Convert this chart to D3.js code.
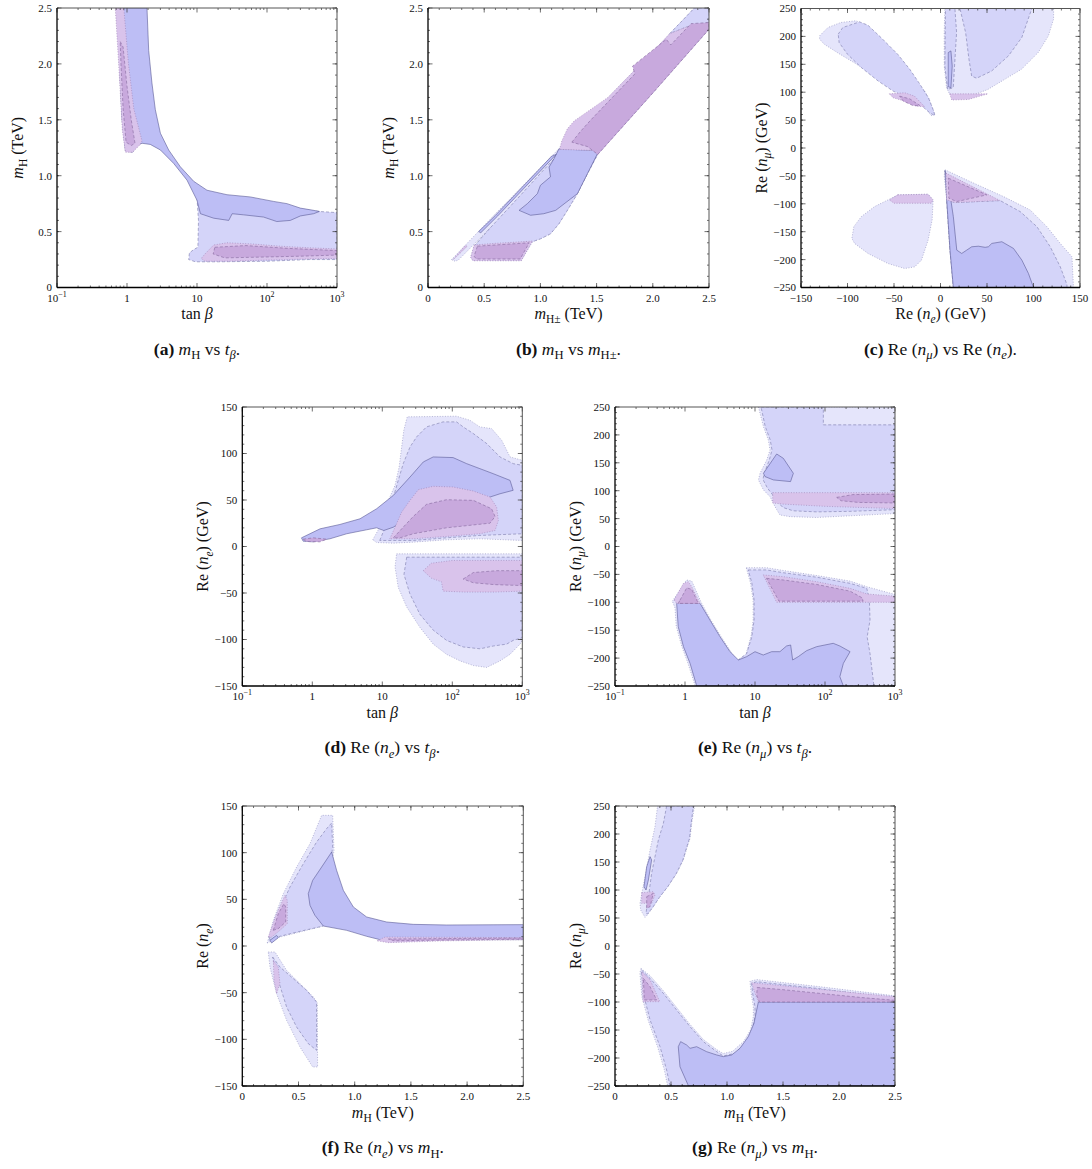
<!DOCTYPE html>
<html><head><meta charset="utf-8">
<script src="https://cdn.jsdelivr.net/npm/d3@7"></script>
<style>
body{margin:0;background:#fff}
svg{display:block}
text{font-family:"Liberation Serif","DejaVu Serif",serif;fill:#111}
</style>
</head><body>
<svg id="chart" width="1092" height="1169"></svg>
<script>
// ---------------- tick values and labels ----------------
const massTicks = [0, 0.5, 1.0, 1.5, 2.0, 2.5];
const massTickLabels = ["0", "0.5", "1.0", "1.5", "2.0", "2.5"];
const tanbTicks = [0.1, 1, 10, 100, 1000];
const tanbTickLabels = [["10", "−1"], ["1", ""], ["10", ""], ["10", "2"], ["10", "3"]];
const ne150Ticks = [-150, -100, -50, 0, 50, 100, 150];
const ne150TickLabels = ["−150", "−100", "−50", "0", "50", "100", "150"];
const nm250Ticks = [-250, -200, -150, -100, -50, 0, 50, 100, 150, 200, 250];
const nm250TickLabels = ["−250", "−200", "−150", "−100", "−50", "0", "50", "100", "150", "200", "250"];

// ---------------- (a) m_H vs tan beta ----------------
const aL2 = [[10,0.80],[30,0.79],[120,0.75],[300,0.70],[560,0.68],[1000,0.67],[1000,0.25],[400,0.25],[100,0.235],[20,0.23],[9.5,0.23],[7.6,0.25],[7.8,0.31],[9,0.34],[10.3,0.36],[10.5,0.6]];
const aL3 = [[0.78,2.5],[1.93,2.5],[2.04,2.12],[2.27,1.83],[2.54,1.59],[3.0,1.38],[3.94,1.23],[5.78,1.08],[8.96,0.95],[13.9,0.87],[26.8,0.83],[57.8,0.81],[124,0.77],[193,0.75],[300,0.71],[464,0.69],[560,0.68],[464,0.66],[300,0.64],[215,0.60],[138,0.59],[89.6,0.63],[46.4,0.65],[31.8,0.66],[28.4,0.60],[17.3,0.62],[11.2,0.66],[10,0.78],[7.2,0.96],[4.64,1.11],[3.0,1.23],[2.15,1.28],[1.64,1.29],[1.4,1.27],[1.2,1.21],[0.95,1.22],[0.85,1.5],[0.78,2.0]];
const aP1left = [[0.68,2.5],[0.90,2.5],[1.05,2.0],[1.25,1.6],[1.64,1.31],[1.5,1.27],[1.2,1.21],[0.95,1.21],[0.86,1.4],[0.76,2.0]];
const aP2left = [[0.80,2.2],[0.88,2.15],[1.0,1.8],[1.15,1.5],[1.30,1.29],[1.15,1.27],[0.97,1.3],[0.88,1.6],[0.82,2.0]];
const aP1low = [[13,0.30],[17.3,0.38],[26.8,0.40],[60,0.39],[150,0.37],[400,0.355],[1000,0.345],[1000,0.26],[400,0.255],[100,0.245],[30,0.235],[13,0.235],[11.5,0.26]];
const aP2low = [[18,0.36],[50,0.375],[200,0.35],[1000,0.33],[1000,0.29],[300,0.28],[60,0.27],[25,0.265],[17,0.30]];

// ---------------- (b) m_H vs m_H+- ----------------
const bL1 = [[0.21,0.25],[0.60,0.66],[1.0,1.07],[1.5,1.59],[2.0,2.11],[2.37,2.5],[2.5,2.5],[2.5,2.31],[2.0,1.74],[1.51,1.19],[1.42,1.02],[1.33,0.84],[1.24,0.69],[1.165,0.57],[1.09,0.48],[1.0,0.435],[0.93,0.41],[0.83,0.24],[0.40,0.24],[0.38,0.27],[0.41,0.37],[0.56,0.54],[0.27,0.245],[0.24,0.235]];
const bL2 = [[0.41,0.37],[0.56,0.54],[0.80,0.80],[1.0,1.02],[1.12,1.15],[1.165,1.23],[1.51,1.19],[1.42,1.02],[1.33,0.84],[1.24,0.69],[1.165,0.57],[1.09,0.48],[1.0,0.435],[0.93,0.41]];
const bL2top = [[2.15,2.27],[2.37,2.5],[2.5,2.5],[2.5,2.37],[2.3,2.33]];
const bL3 = [[1.165,1.24],[1.12,1.15],[1.077,1.077],[1.09,0.99],[1.0,0.914],[0.973,0.839],[0.884,0.75],[0.81,0.69],[0.913,0.646],[1.03,0.66],[1.136,0.69],[1.329,0.839],[1.418,1.018],[1.507,1.196],[1.48,1.226]];
const bL3strip = [[0.45,0.50],[0.60,0.645],[1.10,1.175],[1.14,1.19],[0.62,0.64],[0.47,0.49]];
const bP1up = [[1.17,1.235],[1.19,1.31],[1.24,1.42],[1.30,1.49],[1.6,1.70],[2.0,2.11],[2.15,2.27],[2.3,2.33],[2.5,2.37],[2.5,2.31],[2.0,1.74],[1.51,1.19],[1.48,1.226]];
const bP2up = [[1.28,1.30],[1.36,1.40],[1.45,1.50],[1.84,1.91],[1.82,1.98],[2.12,2.22],[2.16,2.17],[2.34,2.36],[2.5,2.37],[2.5,2.31],[2.0,1.74],[1.51,1.19],[1.42,1.26]];
const bP1low = [[0.41,0.38],[0.60,0.395],[0.93,0.415],[0.83,0.24],[0.40,0.24],[0.38,0.27]];
const bP2low = [[0.44,0.37],[0.90,0.40],[0.82,0.255],[0.43,0.255],[0.41,0.28]];
const bP1needle = [[0.22,0.245],[0.30,0.32],[0.35,0.37],[0.33,0.375],[0.24,0.27]];

// ---------------- (c) Re(n_mu) vs Re(n_e) ----------------
const cULL1 = [[-130,201],[-121,216],[-107,225],[-91,228],[-78,219],[-60,183],[-42,147],[-28,123],[-17,102],[-12,87],[-6,60],[-10,58],[-17,74],[-28,84],[-42,98],[-57,113],[-75,134],[-92,152],[-110,170],[-125,186],[-130,195]];
const cULL2 = [[-110,204],[-105,216],[-87,226],[-78,220],[-64,198],[-46,168],[-33,141],[-22,114],[-13,90],[-8,69],[-6,58],[-11.5,63],[-20.5,76],[-35,90],[-51,102],[-67,120],[-85,144],[-100,168],[-109,189]];
const cULP1 = [[-55,97],[-38.5,99],[-28,93],[-17,74],[-26,75],[-38.5,84],[-51,90]];
const cULP2 = [[-44,93],[-33,88],[-22,76],[-29.5,76],[-40,84]];
const cURL1 = [[4.7,250],[121.6,250],[121.6,231],[116,201],[105,171],[87,141],[69,123],[51,105],[37,96],[23,93],[10,96],[6.5,108],[4,147],[4,207]];
const cURL2 = [[20.9,250],[98.2,250],[87.4,198],[73,165],[55,138],[38.8,125],[33.5,129],[30.6,159],[27,207]];
const cURL2strip = [[5.4,250],[15.5,250],[17.3,207],[13.7,108],[7.6,105],[4.7,147]];
const cURL3 = [[8.3,171],[11.2,174],[12.6,147],[11.2,108],[8.3,110]];
const cURP1 = [[10,97],[51,97],[30,87],[12,86]];
const cLLL1 = [[-45.7,-84],[-13.3,-82.7],[-7.9,-93],[-9,-129],[-13.3,-165],[-20.5,-201],[-27.7,-213],[-38.5,-216],[-56.5,-207],[-78,-189],[-92.4,-171],[-95.3,-162],[-93.2,-141],[-85.2,-123],[-70.9,-105],[-56.5,-93]];
const cLLP1 = [[-46,-84],[-13.3,-83],[-8,-93],[-10,-99],[-50,-99],[-55,-93]];
const cLRL1 = [[4.8,-39],[31.8,-60],[67.7,-87],[96.4,-111],[114.4,-141],[128.8,-171],[141.4,-195],[143,-250],[13.8,-250],[10.2,-183],[6.7,-93],[4,-50]];
const cLRL2 = [[6.6,-93],[15.6,-97.8],[64.1,-94.2],[85.7,-114],[103.7,-141],[118,-177],[128.8,-213],[136,-245],[136,-250],[13.8,-250],[10.2,-183]];
const cLRL3 = [[4.8,-40],[8.4,-63],[13.8,-123],[17.5,-183],[22.8,-189],[28.2,-183],[33.6,-177],[40.7,-176],[48,-178],[51.5,-177],[55.2,-171],[66,-168],[78.5,-180],[87.5,-201],[94.6,-225],[100,-250],[13.8,-250],[10.2,-183],[6.7,-93]];
const cLRP1 = [[5.9,-45],[64.1,-94.2],[15.6,-97.8],[6.6,-93]];
const cLRP2 = [[8.4,-54],[49.8,-84],[17.5,-96],[9,-90]];

// ---------------- (d) Re(n_e) vs tan beta ----------------
const dUL1 = [[7.3,7.2],[9.2,20.8],[10.6,35.2],[12.2,49.6],[15.2,65.8],[17.4,85.5],[18.9,107],[20.3,125],[22.7,139.4],[115,140.1],[178,135.8],[248,128.6],[364,126.8],[507,114.3],[668,96.3],[1000,92.7],[1000,6.5],[248,8.3],[82.5,7.2],[27.7,4.7],[14.4,3.6],[8.3,4.3]];
const dUL2 = [[9.2,6.5],[10.5,17.2],[12.2,35.2],[14.4,53.2],[16.9,71.1],[19.9,89.1],[24.9,107.1],[31,117.9],[42.8,128.6],[74,134],[115,134],[143,128.6],[200,121.4],[310,110.7],[480,96.3],[740,89.1],[1000,87.3],[1000,13.7],[248,11.9],[82.5,9.3],[27.7,6.5]];
const dUL3 = [[0.70,9.3],[1.29,19],[2.48,23.7],[4.8,29.8],[8.3,40.6],[14.4,55],[24.9,74.7],[38.5,90.9],[53.3,96.3],[102.6,95.6],[160,89.1],[248,83.7],[384,78.3],[668,71.1],[740,60.4],[480,56.7],[248,49.6],[82.5,46],[27.7,35.2],[14.4,20.8],[10.5,17.2],[8.3,20.1],[6,18],[3.1,13.7],[1.79,8.3],[1.03,5],[0.74,5.7]];
const dUP1 = [[12.8,8.3],[15.2,20.8],[18.9,37],[24.9,49.6],[32.7,61.1],[53.3,64.7],[102.6,64],[200,59.6],[346,53.2],[430,42.4],[455,28],[408,17.2],[248,13.7],[82.5,10.8],[27.7,8.3]];
const dUP2 = [[14.4,9.3],[19.9,20.8],[27.7,32.3],[42.8,45.3],[82.5,50.3],[200,49.6],[364,40.6],[408,32.3],[346,25.1],[82.5,20.1],[27.7,13.7],[17.9,9.3]];
const dUP2tip = [[0.74,7.9],[1.03,9.3],[1.60,7.9],[1.29,5],[0.82,5.4]];
const dLL1 = [[16,-7.9],[1000,-7.9],[1000,-101],[927,-105],[666,-116],[480,-123],[310,-130],[200,-128],[129,-123],[83,-116],[53.5,-105],[34.5,-87],[22.3,-65],[16.9,-44],[15.2,-22]];
const dLL2 = [[22.3,-11.5],[1000,-11.5],[1000,-98],[740,-101],[595,-105],[385,-107],[249,-110],[143,-108],[83,-101],[53.5,-90],[34.5,-73],[24.8,-51],[20.4,-30]];
const dLP1 = [[38.5,-26],[50,-18],[100,-15],[1000,-15],[1000,-48],[400,-49],[150,-49],[74,-48],[70,-38],[50,-34]];
const dLP2 = [[143,-35],[200,-28],[430,-26],[1000,-26],[1000,-42],[400,-41],[200,-39]];

// ---------------- (e) Re(n_mu) vs tan beta ----------------
const eUL1 = [[11.2,250],[1000,250],[1000,59],[228,55],[76,52],[31.6,53.5],[22.7,56.5],[19.3,71.4],[16.4,89.3],[13.2,101.4],[11.2,119.3],[11.8,131.2],[14.7,155],[16.4,172.9],[15.5,190.9],[13.2,214.7]];
const eUL2 = [[12.2,250],[94.7,250],[94.7,218],[1000,218],[1000,66],[228,63],[76,62],[35,64],[25,70],[21,80],[18,92],[15,105],[13,120],[13.5,131],[16,155],[17.5,173],[16.5,191],[14,215]];
const eUL3 = [[13.2,131.2],[20.4,165.8],[25.4,158],[35.3,131.2],[32.2,116.3],[18.3,119.3],[13.9,125.3]];
const eUP1 = [[17.9,96.5],[1000,96.5],[1000,68],[100,72],[25,76],[17.9,78]];
const eUP2 = [[147,88],[250,93],[1000,94],[1000,78],[300,79],[170,82]];
const eLL1 = [[7.5,-38],[14.6,-38],[25.4,-43],[76,-52],[228,-62],[395,-72],[1000,-86],[1000,-250],[5,-250],[5.5,-205],[7.4,-194],[8.8,-160],[9.4,-132],[9.4,-96],[8.6,-65]];
const eLL2 = [[8,-42],[14.6,-42],[25.4,-47],[76,-55],[228,-66],[395,-75],[430,-95],[440,-132],[400,-162],[440,-192],[500,-250],[5.8,-250],[5.8,-203],[7.6,-192],[9,-162],[9.7,-132],[9.7,-96],[9,-65]];
const eLarmL1 = [[0.66,-98],[1.05,-60],[1.25,-62],[1.7,-100],[2.35,-132],[3.3,-162],[4.6,-190],[5.8,-207],[7.6,-200],[5.5,-250],[1.4,-250],[1.1,-209],[0.9,-179],[0.75,-143],[0.72,-110]];
const eLL3 = [[0.76,-101.9],[1.64,-101.9],[2.27,-131.7],[3.16,-161.6],[4.39,-188.5],[5.79,-203.4],[7.6,-197.4],[10,-188.5],[13.1,-194.5],[17.3,-188.5],[22.7,-188.5],[28.2,-178.3],[32.3,-176.5],[34.5,-203.4],[41.5,-197.4],[54.6,-186.7],[76,-179.5],[131,-173.5],[163,-178.3],[228,-188.5],[183,-209.4],[163,-233.3],[183,-250],[1.47,-250],[1.18,-209.4],[0.95,-179.5],[0.80,-143.7]];
const eLP1right = [[13.1,-51],[25.4,-54],[76,-63],[228,-75],[395,-85],[1000,-89],[1000,-100],[20.4,-100]];
const eLP2right = [[14.6,-57],[25.4,-60],[76,-68],[228,-80],[340,-92],[350,-98],[22,-98]];
const eLP1left = [[0.70,-96],[0.95,-66],[1.12,-63],[1.25,-72],[1.64,-102],[0.76,-102]];
const eLP2left = [[0.85,-96],[1.06,-74],[1.25,-77],[1.55,-102],[0.80,-102]];

// ---------------- (f) Re(n_e) vs m_H ----------------
const fUL1 = [[0.222,3.2],[0.276,27.5],[0.365,56.1],[0.483,84.6],[0.602,109.6],[0.706,140],[0.804,140],[0.816,102],[0.75,60],[0.721,21.4],[0.513,15],[0.335,9.6]];
const fUL2 = [[0.240,6.8],[0.305,31.1],[0.424,63.2],[0.543,88.2],[0.661,111.4],[0.750,125.7],[0.795,131.8],[0.804,106],[0.75,60],[0.721,21.4],[0.513,15.7],[0.335,10.4],[0.246,6.1]];
const fUL3 = [[0.795,100.7],[0.839,81.1],[0.899,59.6],[0.988,41.8],[1.106,31.1],[1.284,25.7],[1.521,23.2],[1.818,22.5],[2.5,22.9],[2.5,6.8],[1.818,6.8],[1.225,6.8],[1.106,10.4],[0.928,16.8],[0.721,21.4],[0.646,32.9],[0.602,43.6],[0.587,56.1],[0.626,70.3],[0.706,84.6]];
const fUL3tip = [[0.246,6.1],[0.305,11.4],[0.32,8.9],[0.261,3.2]];
const fUP1 = [[0.231,9.6],[0.305,34.6],[0.38,54.3],[0.40,48.9],[0.40,23.9],[0.335,16.8],[0.261,9.6]];
const fUP2 = [[0.276,16.8],[0.32,34.6],[0.37,45.3],[0.386,41.8],[0.386,25.7],[0.32,18.6]];
const fRP1 = [[1.20,5.5],[1.27,9.6],[2.5,9.0],[2.5,6.8],[1.8,5.5],[1.3,3.6]];
const fRP2 = [[1.30,7.5],[2.5,8.6],[2.5,7.3],[1.7,6.2],[1.35,5.6]];
const fLL1 = [[0.231,-6.4],[0.291,-6.4],[0.394,-26.1],[0.513,-40.3],[0.632,-54.6],[0.667,-61],[0.670,-129.6],[0.626,-129.6],[0.513,-108.2],[0.394,-79.6],[0.305,-51.1],[0.246,-22.5]];
const fLL2 = [[0.270,-11.8],[0.335,-22.5],[0.454,-35],[0.572,-47.5],[0.661,-60],[0.661,-111.8],[0.587,-104.6],[0.483,-86.8],[0.394,-65.3],[0.32,-36.8],[0.282,-18.9]];
const fLP1 = [[0.276,-15.4],[0.32,-22.5],[0.335,-40.3],[0.305,-51.1],[0.282,-36.8]];

// ---------------- (g) Re(n_mu) vs m_H ----------------
const gUL1 = [[0.223,76.2],[0.268,123.8],[0.313,171.4],[0.357,213.1],[0.380,250],[0.71,250],[0.685,219],[0.670,192.2],[0.646,177.4],[0.610,153.6],[0.551,129.8],[0.476,107.1],[0.402,88.1],[0.342,70.2],[0.289,55.4],[0.268,51.2],[0.229,64.3]];
const gUL2 = [[0.461,250],[0.70,250],[0.680,219],[0.665,192],[0.641,177],[0.605,153],[0.546,129],[0.471,106],[0.397,87],[0.337,69],[0.289,57],[0.277,58.3],[0.289,76.2],[0.307,100],[0.327,129.8],[0.357,159.5],[0.387,189.3],[0.432,219]];
const gUL3 = [[0.259,106],[0.283,141.7],[0.313,159.5],[0.327,153.6],[0.298,117.9],[0.277,100]];
const gUP1 = [[0.238,95.2],[0.342,97],[0.357,91.1],[0.327,76.2],[0.238,76.2]];
const gUP2 = [[0.283,88.1],[0.342,94],[0.313,70.2],[0.283,67.3]];
const gLL1 = [[0.232,-40],[0.313,-53],[0.432,-80],[0.551,-110],[0.67,-140],[0.789,-167],[0.908,-185],[0.967,-192],[1.05,-188],[1.15,-170],[1.21,-150],[1.235,-126],[1.235,-108],[1.215,-84],[1.205,-63],[1.265,-60],[1.8,-72],[2.5,-89],[2.5,-250],[0.47,-250],[0.44,-221],[0.38,-180],[0.295,-132],[0.24,-90],[0.222,-48]];
const gLL2 = [[0.238,-43],[0.3125,-57.7],[0.4315,-84.5],[0.55,-114.3],[0.67,-144],[0.789,-170.8],[0.908,-188.7],[0.967,-196.4],[1.071,-191.7],[1.161,-173.8],[1.22,-153],[1.25,-126.2],[1.25,-108.3],[1.229,-84.5],[1.22,-66.7],[1.265,-63.7],[1.8,-75.6],[2.5,-93.4],[2.5,-250],[0.491,-250],[0.461,-221.4],[0.402,-179.8],[0.313,-132.1],[0.26,-90.5],[0.238,-50]];
const gLL3 = [[0.655,-249.4],[0.580,-215.5],[0.565,-179.8],[0.586,-170.8],[0.640,-176.8],[0.670,-182.7],[0.729,-179.8],[0.818,-188.7],[0.908,-194.6],[0.967,-197.6],[1.042,-194.6],[1.116,-182.7],[1.190,-161.9],[1.241,-138.1],[1.265,-114.3],[1.280,-100],[2.5,-100],[2.5,-250]];
const gLP1left = [[0.24,-46],[0.3125,-60],[0.40,-99.4],[0.25,-99.4]];
const gLP2left = [[0.253,-57.7],[0.3125,-72.6],[0.372,-96.4],[0.262,-96.4]];
const gLP1right = [[1.22,-65.5],[2.5,-90.5],[2.5,-100],[1.28,-100],[1.25,-84.5]];
const gLP2right = [[1.27,-74],[1.5,-78],[2.2,-92],[2.5,-97],[2.5,-100],[1.29,-100],[1.265,-88]];

// ---------------- styles ----------------
const STYLE = {
  L1: {fill: "#e5e5fb", stroke: "#8b8bbb", dash: "1,1.6"},
  L2: {fill: "#d4d4f9", stroke: "#7a7aab", dash: "3,2"},
  L3: {fill: "#bdbef5", stroke: "#5a5a96", dash: null},
  P1: {fill: "#d9c3eb", stroke: "#9a7db2", dash: "1,1.6"},
  P2: {fill: "#c8a9dd", stroke: "#85689e", dash: "3,2"}
};

const mass = {type: "lin", domain: [0, 2.5], ticks: massTicks, labels: massTickLabels, minor: 0.1};
const tanb = {type: "log", domain: [0.1, 1000], ticks: tanbTicks, labels: tanbTickLabels};
const ne150 = {type: "lin", domain: [-150, 150], ticks: ne150Ticks, labels: ne150TickLabels, minor: 10};
const nm250 = {type: "lin", domain: [-250, 250], ticks: nm250Ticks, labels: nm250TickLabels, minor: 10};

const T_tanb = [{t: "tan\u00A0"}, {t: "β", i: 1}];
const T_mH = [{t: "m", i: 1}, {t: "H", sub: 1}, {t: "\u00A0(TeV)"}];
const T_mHpm = [{t: "m", i: 1}, {t: "H±", sub: 1}, {t: "\u00A0(TeV)"}];
const T_ne = [{t: "Re\u00A0("}, {t: "n", i: 1}, {t: "e", i: 1, sub: 1}, {t: ")\u00A0(GeV)"}];
const T_nm = [{t: "Re\u00A0("}, {t: "n", i: 1}, {t: "μ", i: 1, sub: 1}, {t: ")\u00A0(GeV)"}];
const T_ne0 = [{t: "Re\u00A0("}, {t: "n", i: 1}, {t: "e", i: 1, sub: 1}, {t: ")"}];
const T_nm0 = [{t: "Re\u00A0("}, {t: "n", i: 1}, {t: "μ", i: 1, sub: 1}, {t: ")"}];

const C_ne = [{t: "\u00A0Re\u00A0("}, {t: "n", i: 1}, {t: "e", i: 1, sub: 1}, {t: ")"}];
const C_nm = [{t: "\u00A0Re\u00A0("}, {t: "n", i: 1}, {t: "μ", i: 1, sub: 1}, {t: ")"}];
const C_vs = [{t: "\u00A0vs\u00A0"}];
const C_tb = [{t: "t", i: 1}, {t: "β", i: 1, sub: 1}, {t: "."}];
const C_mH = [{t: "m", i: 1}, {t: "H", sub: 1}];

const panels = [
  {id: "a", left: 57, top: 8, w: 280, h: 279.5, x: tanb, y: mass, xt: T_tanb, yt: T_mH,
   cap: [{t: "(a)", b: 1}, {t: "\u00A0"}, ...C_mH, ...C_vs, ...C_tb],
   regions: [["L2", aL2], ["L3", aL3], ["P1", aP1left], ["P2", aP2left], ["P1", aP1low], ["P2", aP2low]]},
  {id: "b", left: 428, top: 8, w: 281, h: 279.5, x: mass, y: mass, xt: T_mHpm, yt: T_mH,
   cap: [{t: "(b)", b: 1}, {t: "\u00A0"}, ...C_mH, ...C_vs, {t: "m", i: 1}, {t: "H±", sub: 1}, {t: "."}],
   regions: [["L1", bL1], ["L2", bL2], ["L2", bL2top], ["L3", bL3], ["L3", bL3strip], ["P1", bP1up], ["P2", bP2up], ["P1", bP1low], ["P2", bP2low], ["P1", bP1needle]]},
  {id: "c", left: 801, top: 8.5, w: 279, h: 279, x: ne150, y: nm250, xt: T_ne, yt: T_nm,
   cap: [{t: "(c)", b: 1}, ...C_nm, {t: "\u00A0vs"}, ...C_ne, {t: "."}],
   regions: [["L1", cULL1], ["L2", cULL2], ["P1", cULP1], ["P2", cULP2],
             ["L1", cURL1], ["L2", cURL2], ["L2", cURL2strip], ["L3", cURL3], ["P1", cURP1],
             ["L1", cLLL1], ["P1", cLLP1],
             ["L1", cLRL1], ["L2", cLRL2], ["L3", cLRL3], ["P1", cLRP1], ["P2", cLRP2]]},
  {id: "d", left: 242.3, top: 407, w: 280, h: 279, x: tanb, y: ne150, xt: T_tanb, yt: T_ne,
   cap: [{t: "(d)", b: 1}, ...C_ne, ...C_vs, ...C_tb],
   regions: [["L1", dUL1], ["L2", dUL2], ["L3", dUL3], ["P1", dUP1], ["P2", dUP2], ["P2", dUP2tip],
             ["L1", dLL1], ["L2", dLL2], ["P1", dLP1], ["P2", dLP2]]},
  {id: "e", left: 615, top: 407, w: 280, h: 279, x: tanb, y: nm250, xt: T_tanb, yt: T_nm,
   cap: [{t: "(e)", b: 1}, ...C_nm, ...C_vs, ...C_tb],
   regions: [["L1", eUL1], ["L2", eUL2], ["L3", eUL3], ["P1", eUP1], ["P2", eUP2],
             ["L1", eLL1], ["L2", eLL2], ["L1", eLarmL1], ["L3", eLL3],
             ["P1", eLP1right], ["P2", eLP2right], ["P1", eLP1left], ["P2", eLP2left]]},
  {id: "f", left: 242.3, top: 806, w: 281, h: 280, x: mass, y: ne150, xt: T_mH, yt: T_ne0,
   cap: [{t: "(f)", b: 1}, ...C_ne, ...C_vs, ...C_mH, {t: "."}],
   regions: [["L1", fUL1], ["L2", fUL2], ["L3", fUL3], ["L3", fUL3tip], ["P1", fUP1], ["P2", fUP2],
             ["P1", fRP1], ["P2", fRP2], ["L1", fLL1], ["L2", fLL2], ["P1", fLP1]]},
  {id: "g", left: 615, top: 806, w: 280, h: 280, x: mass, y: nm250, xt: T_mH, yt: T_nm0,
   cap: [{t: "(g)", b: 1}, ...C_nm, ...C_vs, ...C_mH, {t: "."}],
   regions: [["L1", gUL1], ["L2", gUL2], ["L3", gUL3], ["P1", gUP1], ["P2", gUP2],
             ["L1", gLL1], ["L2", gLL2], ["L3", gLL3],
             ["P1", gLP1left], ["P2", gLP2left], ["P1", gLP1right], ["P2", gLP2right]]}
];

const svg = d3.select("#chart");

function rich(textSel, segs, size) {
  let off = 0;
  segs.forEach(s => {
    const ts = textSel.append("tspan").text(s.t);
    const small = s.sub || s.sup;
    const target = s.sub ? size * 0.28 : (s.sup ? -size * 0.42 : 0);
    ts.attr("font-size", small ? size * 0.72 : size);
    if (target - off !== 0) ts.attr("dy", target - off);
    off = target;
    if (s.i) ts.attr("font-style", "italic");
    if (s.b) ts.attr("font-weight", "bold");
  });
}

function makeScale(ax, range) {
  return ax.type === "log" ? d3.scaleLog().domain(ax.domain).range(range)
                           : d3.scaleLinear().domain(ax.domain).range(range);
}
function minorTicks(ax) {
  const out = [];
  if (ax.type === "log") {
    for (let k = -1; k < 3; k++) for (let m = 2; m <= 9; m++) out.push(m * Math.pow(10, k));
  } else {
    const [a, b] = ax.domain;
    const n = Math.round((b - a) / ax.minor);
    for (let i = 0; i <= n; i++) out.push(a + i * ax.minor);
  }
  return out;
}

panels.forEach(p => {
  const L = p.left, R = p.left + p.w, T = p.top, B = p.top + p.h;
  const x = makeScale(p.x, [L, R]);
  const y = makeScale(p.y, [B, T]);
  const g = svg.append("g");
  const clipId = "clip-" + p.id;
  svg.append("clipPath").attr("id", clipId).append("rect")
    .attr("x", L).attr("y", T).attr("width", p.w).attr("height", p.h);
  const rg = g.append("g").attr("clip-path", `url(#${clipId})`);
  const line = d3.line().x(d => x(d[0])).y(d => y(d[1])).curve(d3.curveLinearClosed);
  p.regions.forEach(([k, pts]) => {
    const s = STYLE[k];
    rg.append("path").attr("d", line(pts))
      .attr("fill", s.fill).attr("stroke", s.stroke)
      .attr("stroke-width", 0.6).attr("stroke-dasharray", s.dash)
      .attr("stroke-linejoin", "round");
  });

  // ticks (inward on all four sides)
  const tk = g.append("g").attr("stroke", "#333").attr("stroke-width", 0.7);
  const xMin = minorTicks(p.x), yMin = minorTicks(p.y);
  xMin.forEach(v => { const px = x(v); if (px < L - 0.1 || px > R + 0.1) return;
    tk.append("line").attr("x1", px).attr("x2", px).attr("y1", B).attr("y2", B - 2);
    tk.append("line").attr("x1", px).attr("x2", px).attr("y1", T).attr("y2", T + 2); });
  yMin.forEach(v => { const py = y(v); if (py < T - 0.1 || py > B + 0.1) return;
    tk.append("line").attr("y1", py).attr("y2", py).attr("x1", L).attr("x2", L + 2);
    tk.append("line").attr("y1", py).attr("y2", py).attr("x1", R).attr("x2", R - 2); });
  p.x.ticks.forEach(v => { const px = x(v);
    tk.append("line").attr("x1", px).attr("x2", px).attr("y1", B).attr("y2", B - 4.5);
    tk.append("line").attr("x1", px).attr("x2", px).attr("y1", T).attr("y2", T + 4.5); });
  p.y.ticks.forEach(v => { const py = y(v);
    tk.append("line").attr("y1", py).attr("y2", py).attr("x1", L).attr("x2", L + 4.5);
    tk.append("line").attr("y1", py).attr("y2", py).attr("x1", R).attr("x2", R - 4.5); });

  // frame
  g.append("line").attr("x1", L).attr("x2", R).attr("y1", T).attr("y2", T).attr("stroke", "#555").attr("stroke-width", 1);
  g.append("line").attr("x1", R).attr("x2", R).attr("y1", T).attr("y2", B).attr("stroke", "#555").attr("stroke-width", 1);
  g.append("line").attr("x1", L).attr("x2", R).attr("y1", B).attr("y2", B).attr("stroke", "#000").attr("stroke-width", 1.3);
  g.append("line").attr("x1", L).attr("x2", L).attr("y1", T).attr("y2", B).attr("stroke", "#000").attr("stroke-width", 1.3);

  // tick labels
  const fs = 11;
  p.x.ticks.forEach((v, i) => {
    const lab = p.x.labels[i];
    const t = g.append("text").attr("x", x(v)).attr("y", B + 14).attr("text-anchor", "middle").attr("font-size", fs);
    if (Array.isArray(lab)) { rich(t, lab[1] ? [{t: lab[0]}, {t: lab[1], sup: 1}] : [{t: lab[0]}], fs); }
    else t.text(lab);
  });
  p.y.ticks.forEach((v, i) => {
    g.append("text").attr("x", L - 5).attr("y", y(v) + 3.9).attr("text-anchor", "end")
      .attr("font-size", fs).text(p.y.labels[i]);
  });

  // axis titles
  const ts = 16;
  const xtxt = g.append("text").attr("x", (L + R) / 2).attr("y", B + 31.5).attr("text-anchor", "middle").attr("font-size", ts);
  rich(xtxt, p.xt, ts);
  const ytxt = g.append("text").attr("transform", `translate(${L - 34},${(T + B) / 2}) rotate(-90)`)
    .attr("text-anchor", "middle").attr("font-size", ts);
  rich(ytxt, p.yt, ts);

  // caption
  const cs = 17.5;
  const ctxt = g.append("text").attr("x", (L + R) / 2).attr("y", B + 67).attr("text-anchor", "middle").attr("font-size", cs);
  rich(ctxt, p.cap, cs);
});
</script>
</body></html>
